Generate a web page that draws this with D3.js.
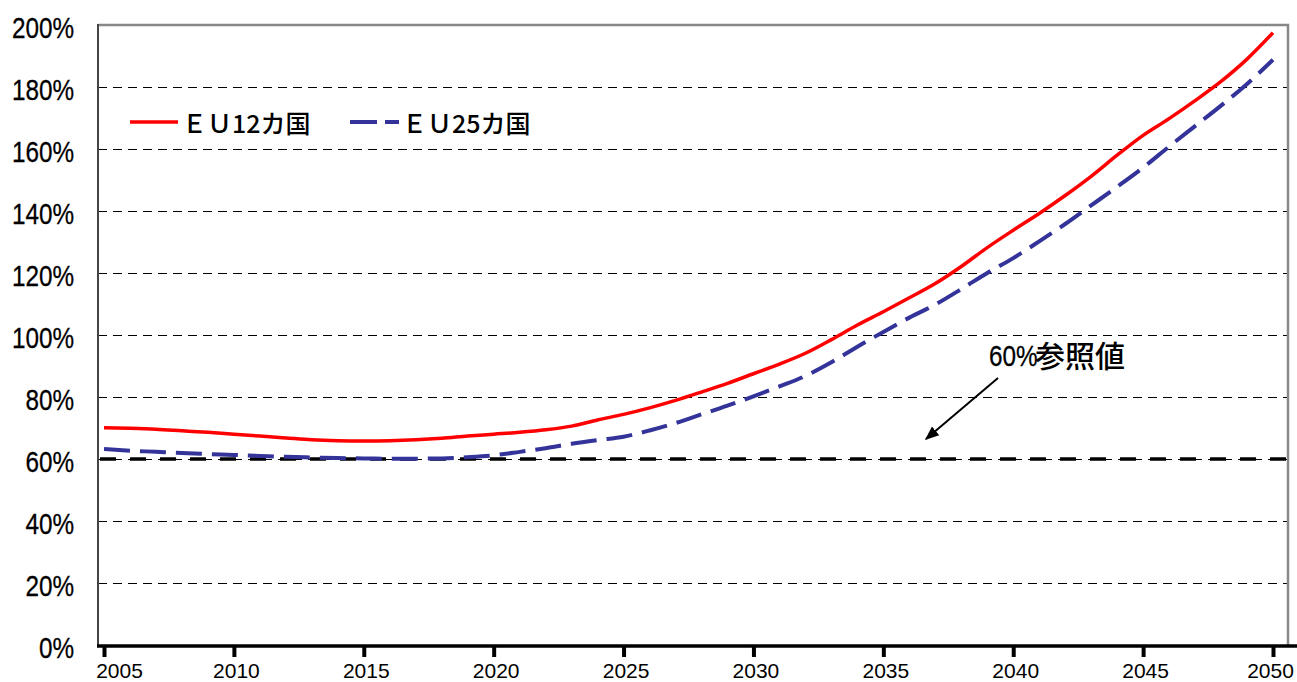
<!DOCTYPE html>
<html>
<head>
<meta charset="utf-8">
<script src="https://cdn.jsdelivr.net/npm/d3@7"></script>
<style>
  html, body { margin: 0; padding: 0; background: #fff; }
  svg { display: block; }
  .num { font-family: "Liberation Sans", Arial, sans-serif; }
  .cjk { font-family: "Noto Sans CJK JP", "Noto Sans CJK SC", sans-serif; }
</style>
</head>
<body>
<svg id="chart" width="1297" height="682"></svg>
<script>
// Years on the horizontal axis
const years = d3.range(2005, 2051);

// Debt ratio (% of GDP), EU12
const eu12 = [70.1, 69.9, 69.6, 69.1, 68.6, 68.0, 67.4, 66.8, 66.2, 65.9,
              65.8, 65.9, 66.2, 66.7, 67.4, 68.0, 68.6, 69.4, 70.6, 72.6,
              74.4, 76.5, 78.9, 81.6, 84.4, 87.5, 90.6, 94.1, 98.5, 103.2,
              107.5, 112.0, 116.6, 122.1, 128.2, 133.8, 139.2, 145.0, 151.2, 158.0,
              164.4, 169.8, 175.6, 181.8, 189.0, 197.5];

// Debt ratio (% of GDP), EU25
const eu25 = [63.2, 62.7, 62.3, 61.9, 61.6, 61.3, 61.0, 60.7, 60.5, 60.3,
              60.2, 60.1, 60.1, 60.2, 60.6, 61.2, 62.3, 63.5, 64.9, 66.1,
              67.2, 69.2, 71.6, 74.4, 77.2, 80.2, 83.4, 86.8, 91.2, 96.2,
              101.0, 105.6, 109.8, 114.8, 120.0, 124.8, 130.2, 135.8, 141.8, 147.8,
              154.0, 160.8, 167.4, 174.0, 181.0, 188.8];

const yTicks = [0, 20, 40, 60, 80, 100, 120, 140, 160, 180, 200];
const xTicks = [2005, 2010, 2015, 2020, 2025, 2030, 2035, 2040, 2045, 2050];
const referenceLevel = 60;
const seriesNames = ["ＥＵ12カ国", "ＥＵ25カ国"];
const refLabelNum = "60%";
const refLabelText = "参照値";

const svg = d3.select("#chart");

const plot = { left: 98, right: 1288, top: 25, bottom: 645 };

const x = d3.scaleLinear().domain([2005, 2050]).range([104, 1273]);
const y = d3.scaleLinear().domain([0, 200]).range([plot.bottom, plot.top]);

// Horizontal gridlines
svg.append("g")
  .selectAll("line")
  .data(yTicks.filter(v => v > 0 && v < 200))
  .join("line")
  .attr("x1", plot.left).attr("x2", plot.right)
  .attr("y1", d => y(d) + 0.5).attr("y2", d => y(d) + 0.5)
  .attr("stroke", "#000")
  .attr("stroke-width", 1)
  .attr("stroke-dasharray", "9,6");

// Frame: top and right borders
svg.append("path")
  .attr("d", `M${plot.left},${plot.top}H${plot.right}V${plot.bottom}`)
  .attr("fill", "none")
  .attr("stroke", "#888")
  .attr("stroke-width", 2.5);

// Left axis line
svg.append("line")
  .attr("x1", plot.left).attr("x2", plot.left)
  .attr("y1", plot.top - 1).attr("y2", plot.bottom)
  .attr("stroke", "#444")
  .attr("stroke-width", 2);

// Y tick labels (condensed)
svg.append("g")
  .selectAll("text")
  .data(yTicks)
  .join("text")
  .attr("class", "num")
  .attr("transform", d => `translate(74,${y(d) + 3}) scale(0.81,1)`)
  .attr("text-anchor", "end")
  .attr("dominant-baseline", "central")
  .attr("font-size", 30)
  .attr("fill", "#000")
  .attr("stroke", "#000")
  .attr("stroke-width", 0.3)
  .text(d => d + "%");

// 60% reference line
svg.append("line")
  .attr("x1", plot.left + 2).attr("x2", plot.right)
  .attr("y1", y(referenceLevel)).attr("y2", y(referenceLevel))
  .attr("stroke", "#000")
  .attr("stroke-width", 3.5)
  .attr("stroke-dasharray", "16,14");

// Series lines
const line = d3.line()
  .x((d, i) => x(years[i]))
  .y(d => y(d))
  .curve(d3.curveMonotoneX);

svg.append("path")
  .datum(eu25)
  .attr("d", line)
  .attr("fill", "none")
  .attr("stroke", "#333399")
  .attr("stroke-width", 4)
  .attr("stroke-dasharray", "26,10");

svg.append("path")
  .datum(eu12)
  .attr("d", line)
  .attr("fill", "none")
  .attr("stroke", "#ff0000")
  .attr("stroke-width", 3.5);

// Bottom axis
const xAxis = d3.axisBottom(x)
  .tickValues(xTicks)
  .tickFormat(d3.format("d"))
  .tickSize(12)
  .tickPadding(6);

const gx = svg.append("g")
  .attr("transform", `translate(0,${plot.bottom})`)
  .call(xAxis);
gx.select(".domain").remove();
gx.selectAll(".tick line").attr("stroke", "#000").attr("stroke-width", 4);
gx.selectAll(".tick text")
  .attr("font-size", 21)
  .attr("font-family", "'Liberation Sans', Arial, sans-serif")
  .attr("fill", "#000")
  .attr("dx", (d, i, n) => i === 0 ? 15 : (i === n.length - 1 ? -3 : 2));

svg.append("line")
  .attr("x1", plot.left - 1).attr("x2", 1297)
  .attr("y1", plot.bottom + 1).attr("y2", plot.bottom + 1)
  .attr("stroke", "#000")
  .attr("stroke-width", 3.5);

// Legend
const legend = svg.append("g");
legend.append("line")
  .attr("x1", 130).attr("x2", 178).attr("y1", 122).attr("y2", 122)
  .attr("stroke", "#ff0000").attr("stroke-width", 3.5);
legend.append("text")
  .attr("class", "cjk")
  .attr("x", 182).attr("y", 133)
  .attr("font-size", 25)
  .attr("font-weight", 500)
  .attr("fill", "#000")
  .text(seriesNames[0]);
legend.append("line")
  .attr("x1", 350).attr("x2", 399).attr("y1", 122).attr("y2", 122)
  .attr("stroke", "#333399").attr("stroke-width", 4)
  .attr("stroke-dasharray", "27,8");
legend.append("text")
  .attr("class", "cjk")
  .attr("x", 402).attr("y", 133)
  .attr("font-size", 25)
  .attr("font-weight", 500)
  .attr("fill", "#000")
  .text(seriesNames[1]);

// Reference label and arrow
svg.append("defs").append("marker")
  .attr("id", "arrowhead")
  .attr("viewBox", "0 0 10 10")
  .attr("refX", 9).attr("refY", 5)
  .attr("markerWidth", 7).attr("markerHeight", 7)
  .attr("markerUnits", "strokeWidth")
  .attr("orient", "auto")
  .append("path")
  .attr("d", "M0,1 L10,5 L0,9 Z")
  .attr("fill", "#000");

svg.append("line")
  .attr("x1", 998).attr("y1", 378)
  .attr("x2", 926).attr("y2", 439)
  .attr("stroke", "#000")
  .attr("stroke-width", 2)
  .attr("marker-end", "url(#arrowhead)");

svg.append("text")
  .attr("class", "num")
  .attr("transform", "translate(989,366) scale(0.81,1)")
  .attr("font-size", 30)
  .attr("fill", "#000")
  .attr("stroke", "#000")
  .attr("stroke-width", 0.3)
  .text(refLabelNum);
svg.append("text")
  .attr("class", "cjk")
  .attr("x", 1035).attr("y", 367)
  .attr("font-size", 30)
  .attr("font-weight", 500)
  .attr("fill", "#000")
  .text(refLabelText);
</script>
</body>
</html>
